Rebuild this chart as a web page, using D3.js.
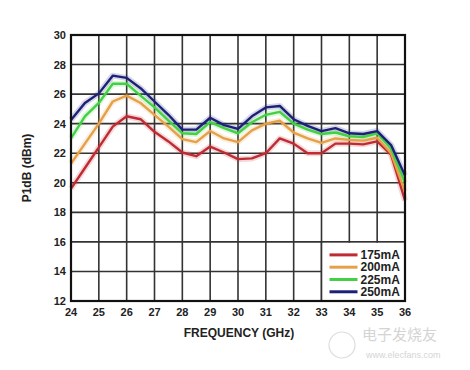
<!DOCTYPE html>
<html>
<head>
<meta charset="utf-8">
<script src="https://cdn.jsdelivr.net/npm/d3@7"></script>
<style>
  body { margin: 0; background: #fff; }
  svg { display: block; font-family: "Liberation Sans", Arial, sans-serif; }
</style>
</head>
<body>
<svg width="470" height="370"></svg>
<script>
  // frequency points (GHz)
  const freqs = [24, 24.5, 25, 25.5, 26, 26.5, 27, 27.5, 28, 28.5, 29, 29.5, 30,
                 30.5, 31, 31.5, 32, 32.5, 33, 33.5, 34, 34.5, 35, 35.5, 36];

  const p175 = [19.6, 21.0, 22.4, 23.8, 24.5, 24.3, 23.45, 22.8, 22.05, 21.8, 22.45, 22.05, 21.6,
                21.65, 22.0, 23.0, 22.65, 22.0, 22.0, 22.65, 22.65, 22.6, 22.8, 21.9, 18.8];
  const p200 = [21.3, 22.65, 24.0, 25.5, 25.9, 25.4, 24.6, 23.8, 22.95, 22.75, 23.5, 23.0, 22.75,
                23.55, 24.0, 24.2, 23.4, 23.0, 22.7, 23.0, 22.9, 22.85, 23.05, 22.0, 19.4];
  const p225 = [23.0, 24.5, 25.4, 26.7, 26.7, 25.9, 25.1, 24.2, 23.35, 23.3, 24.1, 23.7, 23.35,
                24.1, 24.6, 24.8, 24.0, 23.6, 23.3, 23.4, 23.15, 23.1, 23.35, 22.3, 20.0];
  const p250 = [24.25, 25.4, 26.05, 27.25, 27.1, 26.4, 25.5, 24.6, 23.6, 23.6, 24.4, 23.9, 23.65,
                24.5, 25.1, 25.2, 24.3, 23.85, 23.5, 23.7, 23.35, 23.3, 23.5, 22.55, 20.5];

  const seriesNames = ['175mA', '200mA', '225mA', '250mA'];
  const seriesColors = ['#c02a32', '#e5a048', '#44d044', '#1c2078'];
  const seriesValues = [p175, p200, p225, p250];

  const xTicks = d3.range(24, 37, 1);
  const yTicks = d3.range(12, 31, 2);

  const svg = d3.select('svg');
  const margin = { top: 35, right: 65, bottom: 69, left: 71 };
  const width = 470, height = 370;
  const innerWidth = width - margin.left - margin.right;
  const innerHeight = height - margin.top - margin.bottom;

  const x = d3.scaleLinear().domain([24, 36]).range([0, innerWidth]);
  const y = d3.scaleLinear().domain([12, 30]).range([innerHeight, 0]);

  const g = svg.append('g')
      .attr('transform', `translate(${margin.left},${margin.top})`);

  // grid
  g.selectAll('line.vgrid').data(xTicks.slice(1, -1))
    .enter().append('line')
      .attr('class', 'vgrid')
      .attr('x1', d => x(d)).attr('x2', d => x(d))
      .attr('y1', 0).attr('y2', innerHeight)
      .attr('stroke', '#333').attr('stroke-width', 1.6);

  g.selectAll('line.hgrid').data(yTicks.slice(1, -1))
    .enter().append('line')
      .attr('class', 'hgrid')
      .attr('x1', 0).attr('x2', innerWidth)
      .attr('y1', d => y(d)).attr('y2', d => y(d))
      .attr('stroke', '#333').attr('stroke-width', 1.6);

  // curves
  const line = d3.line()
    .x((d, i) => x(freqs[i]))
    .y(d => y(d));

  seriesValues.forEach((vals, k) => {
    g.append('path')
      .datum(vals)
      .attr('fill', 'none')
      .attr('stroke', seriesColors[k])
      .attr('stroke-opacity', 0.18)
      .attr('stroke-width', 6)
      .attr('stroke-linejoin', 'round')
      .attr('d', line);
  });
  seriesValues.forEach((vals, k) => {
    g.append('path')
      .datum(vals)
      .attr('fill', 'none')
      .attr('stroke', seriesColors[k])
      .attr('stroke-width', 2.4)
      .attr('stroke-linejoin', 'round')
      .attr('d', line);
  });

  // legend box (covers the grid in the lower right)
  const legendG = g.append('g')
      .attr('transform', `translate(${x(33)},${y(16) + 1})`);
  legendG.append('rect')
      .attr('width', x(36) - x(33))
      .attr('height', innerHeight - y(16) - 1)
      .attr('fill', '#fff');
  legendG.append('line')
      .attr('x1', 0).attr('x2', 0)
      .attr('y1', -1).attr('y2', innerHeight - y(16))
      .attr('stroke', '#333').attr('stroke-width', 1.6);

  seriesNames.forEach((name, i) => {
    const ly = 12 + i * 12.3;
    legendG.append('line')
      .attr('x1', 8).attr('x2', 36)
      .attr('y1', ly).attr('y2', ly)
      .attr('stroke', seriesColors[i])
      .attr('stroke-width', 3);
    legendG.append('text')
      .attr('x', 39).attr('y', ly)
      .attr('dy', '0.36em')
      .attr('font-size', 12)
      .attr('font-weight', 'bold')
      .attr('fill', '#222')
      .text(name);
  });

  // frame
  g.append('rect')
      .attr('width', innerWidth).attr('height', innerHeight)
      .attr('fill', 'none')
      .attr('stroke', '#111').attr('stroke-width', 2.2);

  // axes labels
  g.selectAll('text.xtick').data(xTicks)
    .enter().append('text')
      .attr('class', 'xtick')
      .attr('x', d => x(d))
      .attr('y', innerHeight + 15)
      .attr('text-anchor', 'middle')
      .attr('font-size', 11)
      .attr('font-weight', 'bold')
      .attr('fill', '#222')
      .text(d => d);

  g.selectAll('text.ytick').data(yTicks)
    .enter().append('text')
      .attr('class', 'ytick')
      .attr('x', -5)
      .attr('y', d => y(d))
      .attr('dy', '0.36em')
      .attr('text-anchor', 'end')
      .attr('font-size', 11)
      .attr('font-weight', 'bold')
      .attr('fill', '#222')
      .text(d => d);

  g.append('text')
      .attr('x', innerWidth / 2 + 1)
      .attr('y', innerHeight + 36)
      .attr('text-anchor', 'middle')
      .attr('font-size', 12)
      .attr('font-weight', 'bold')
      .attr('fill', '#222')
      .text('FREQUENCY (GHz)');

  g.append('text')
      .attr('transform', `translate(${-40},${innerHeight / 2}) rotate(-90)`)
      .attr('text-anchor', 'middle')
      .attr('font-size', 12)
      .attr('font-weight', 'bold')
      .attr('fill', '#222')
      .text('P1dB (dBm)');

  // faint watermark
  const wm = svg.append('g').attr('fill', '#d4d4d4');
  wm.append('circle')
      .attr('cx', 342).attr('cy', 345).attr('r', 13)
      .attr('fill', 'none').attr('stroke', '#ddd').attr('stroke-width', 1.2);
  wm.append('text')
      .attr('x', 362).attr('y', 340)
      .attr('font-size', 15)
      .attr('font-family', '"Noto Sans CJK SC", sans-serif')
      .text('电子发烧友');
  wm.append('text')
      .attr('x', 366).attr('y', 358)
      .attr('font-size', 9)
      .text('www.elecfans.com');
</script>
</body>
</html>
